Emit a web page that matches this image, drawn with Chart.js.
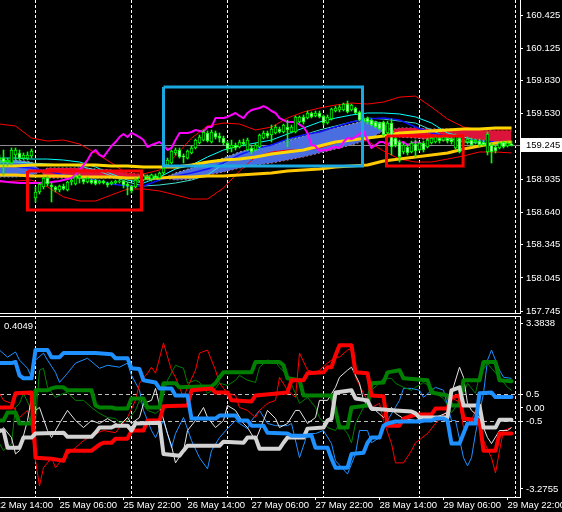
<!DOCTYPE html>
<html><head><meta charset="utf-8">
<style>
html,body{margin:0;padding:0;background:#000;}
body{width:562px;height:512px;position:relative;overflow:hidden;}
canvas{position:absolute;left:0;}
#main{top:0;}
#sub{top:314px;}
</style>
<script src="https://cdn.jsdelivr.net/npm/chart.js@4/dist/chart.umd.min.js"></script>
</head><body>
<canvas id="main" width="562" height="314"></canvas>
<canvas id="sub" width="562" height="198"></canvas>
<script>
// ---------- time axis ----------
const timeLabels = ['22 May 14:00','25 May 06:00','25 May 22:00','26 May 14:00','27 May 06:00','27 May 22:00','28 May 14:00','29 May 06:00','29 May 22:00'];
const timeLabelBars = [0,16,32,48,64,80,96,112,128];
const dayStartBars = [10,34,58,82,106,130];

// ---------- price axis ----------
const priceTicks = [160.425,160.125,159.830,159.530,158.935,158.640,158.345,158.045,157.745];
const priceMin = 157.718, priceMax = 160.561;

// ---------- candles (bars 1..129, H1) ----------
const opens = [
159.112,159.130,159.094,159.085,159.158,159.176,159.130,159.130,159.149,
158.769,158.823,158.868,158.949,158.886,158.868,158.841,158.877,158.841,158.913,
158.895,158.949,158.940,158.913,158.931,158.931,158.904,158.922,158.904,158.895,
158.904,158.913,158.922,158.895,158.877,158.868,158.922,158.931,158.959,158.940,
158.968,158.949,158.995,159.067,159.085,159.176,159.203,159.149,159.130,159.176,
159.221,159.266,159.293,159.357,159.275,159.357,159.329,159.311,159.266,159.221,
159.248,159.230,159.275,159.203,159.221,159.203,159.230,159.311,159.357,159.339,
159.357,159.393,159.366,159.411,159.366,159.366,159.456,159.502,159.493,159.538,
159.511,159.538,159.511,159.447,159.484,159.556,159.565,159.565,159.619,159.565,
159.583,159.547,159.484,159.493,159.474,159.456,159.447,159.456,159.357,159.447,
159.311,159.275,159.185,159.230,159.185,159.257,159.203,159.266,159.230,159.266,
159.275,159.311,159.293,159.311,159.302,159.221,159.311,159.266,159.275,159.293,
159.275,159.284,159.275,159.185,159.248,159.230,159.221,159.275,159.239,159.257];
const closes = [
159.130,159.094,159.112,159.203,159.203,159.130,159.158,159.158,159.194,
158.823,158.895,158.949,158.895,158.868,158.841,158.877,158.850,158.913,158.931,
158.959,158.968,158.913,158.949,158.904,158.895,158.922,158.904,158.886,158.913,
158.922,158.922,158.886,158.877,158.832,158.931,158.949,158.968,158.949,158.977,
158.949,158.995,159.040,159.112,159.194,159.203,159.140,159.140,159.194,159.221,
159.293,159.320,159.366,159.284,159.366,159.320,159.311,159.266,159.212,159.248,
159.221,159.275,159.257,159.293,159.185,159.248,159.339,159.357,159.329,159.393,
159.411,159.366,159.429,159.384,159.411,159.502,159.502,159.456,159.538,159.502,
159.538,159.502,159.447,159.502,159.574,159.583,159.592,159.619,159.547,159.610,
159.538,159.474,159.465,159.456,159.429,159.411,159.393,159.339,159.447,159.230,
159.248,159.140,159.248,159.176,159.266,159.194,159.266,159.203,159.293,159.311,
159.320,159.284,159.320,159.284,159.275,159.329,159.185,159.293,159.302,159.248,
159.293,159.248,159.248,159.348,159.185,159.194,159.266,159.230,159.266,159.245];
const highs = [
159.158,159.203,159.130,159.221,159.221,159.203,159.176,159.185,159.212,
158.868,158.904,158.959,158.968,158.904,158.877,158.886,158.895,158.922,158.940,
158.977,158.986,158.949,158.959,158.940,158.940,158.931,158.931,158.913,158.922,
158.931,158.940,158.931,158.913,158.886,158.949,158.968,158.986,158.977,158.986,
158.986,159.004,159.067,159.130,159.203,159.221,159.221,159.167,159.203,159.239,
159.302,159.339,159.384,159.375,159.384,159.375,159.357,159.329,159.284,159.293,
159.266,159.293,159.302,159.311,159.239,159.266,159.348,159.375,159.375,159.429,
159.429,159.411,159.438,159.474,159.429,159.511,159.511,159.520,159.556,159.547,
159.556,159.556,159.520,159.520,159.583,159.601,159.610,159.628,159.646,159.619,
159.592,159.556,159.502,159.502,159.484,159.465,159.456,159.465,159.465,159.484,
159.329,159.293,159.266,159.248,159.284,159.293,159.275,159.284,159.311,159.329,
159.339,159.329,159.339,159.320,159.320,159.348,159.329,159.302,159.320,159.311,
159.302,159.302,159.293,159.366,159.266,159.248,159.275,159.284,159.284,159.284];
const lows = [
159.067,158.977,159.058,159.067,159.112,159.112,159.112,159.112,159.130,
158.732,158.805,158.850,158.877,158.732,158.823,158.823,158.841,158.832,158.886,
158.886,158.904,158.895,158.904,158.895,158.886,158.895,158.895,158.868,158.886,
158.895,158.904,158.859,158.796,158.814,158.859,158.913,158.922,158.931,158.922,
158.940,158.931,158.977,159.058,159.076,159.158,159.130,159.085,159.121,159.167,
159.212,159.257,159.284,159.275,159.266,159.302,159.275,159.248,159.185,159.185,
159.203,159.221,159.239,159.194,159.167,159.194,159.221,159.302,159.311,159.275,
159.348,159.357,159.357,159.230,159.357,159.357,159.447,159.438,159.484,159.493,
159.502,159.493,159.429,159.438,159.474,159.547,159.547,159.556,159.538,159.556,
159.529,159.465,159.447,159.438,159.420,159.402,159.384,159.329,159.348,159.158,
159.230,159.094,159.167,159.158,159.176,159.140,159.194,159.185,159.221,159.257,
159.266,159.266,159.284,159.266,159.257,159.212,159.176,159.248,159.257,159.239,
159.257,159.230,159.239,159.158,159.085,159.176,159.212,159.221,159.230,159.239];

// ---------- main-window indicator lines (sampled every 4 bars) ----------
const lineBars = [1,5,9,13,17,21,25,29,33,37,41,45,49,53,57,61,65,69,73,77,81,85,89,93,97,101,105,109,113,117,121,125,129];
const upperBand = [159.438,159.420,159.311,159.284,159.293,159.257,159.176,159.085,158.986,158.986,159.022,159.149,159.311,159.420,159.447,159.438,159.384,159.411,159.492,159.547,159.583,159.610,159.628,159.619,159.637,159.682,159.691,159.592,159.483,159.411,159.384,159.384,159.384];
const lowerBand = [158.913,158.922,158.931,158.868,158.778,158.741,158.741,158.796,158.850,158.850,158.832,158.796,158.759,158.759,158.859,159.013,159.140,159.185,159.203,159.203,159.221,159.266,159.311,159.284,159.194,159.121,159.094,159.094,159.121,159.149,159.185,159.185,159.176];
const cyanUpper = [159.130,159.130,159.121,159.121,159.112,159.094,159.049,158.986,158.931,158.904,158.959,159.031,159.067,159.140,159.203,159.239,159.266,159.293,159.348,159.402,159.456,159.492,159.520,159.538,159.538,159.529,159.502,159.447,159.357,159.320,159.284,159.275,159.266];
const cyanLower = [159.094,159.094,159.085,159.076,159.067,159.058,159.022,158.968,158.913,158.877,158.886,158.904,158.931,158.977,159.076,159.158,159.203,159.248,159.293,159.339,159.384,159.420,159.456,159.492,159.483,159.465,159.447,159.384,159.311,159.275,159.266,159.257,159.248];
const blueLine = [159.049,159.049,159.040,159.013,158.977,158.959,158.931,158.895,158.877,158.877,158.931,158.968,158.995,159.031,159.085,159.158,159.212,159.248,159.302,159.339,159.366,159.411,159.456,159.483,159.492,159.474,159.411,159.357,159.329,159.302,159.284,159.275,159.275];
const goldUpper = [159.058,159.058,159.067,159.067,159.067,159.067,159.067,159.058,159.058,159.049,159.049,159.049,159.067,159.094,159.112,159.121,159.140,159.167,159.185,159.203,159.239,159.275,159.293,159.311,159.329,159.357,159.366,159.375,159.384,159.393,159.393,159.402,159.402];
const goldLower = [158.977,158.977,158.968,158.968,158.968,158.959,158.959,158.959,158.949,158.949,158.949,158.959,158.959,158.968,158.968,158.977,158.986,158.995,159.013,159.022,159.031,159.049,159.058,159.067,159.103,159.121,159.140,159.158,159.176,159.212,159.239,159.266,159.275];
const spanA = [159.112,159.112,159.094,158.949,158.949,158.949,158.949,158.949,158.949,158.940,158.931,158.995,159.040,159.085,159.130,159.185,159.221,159.248,159.284,159.329,159.366,159.402,159.438,159.474,159.447,159.320,159.311,159.293,159.284,159.275,159.275,159.275,159.275];
const spanB = [158.959,158.959,158.968,159.040,159.040,159.040,159.031,159.022,158.995,158.977,158.959,158.931,158.940,158.977,159.004,159.040,159.067,159.085,159.112,159.140,159.176,159.212,159.248,159.293,159.375,159.402,159.402,159.393,159.393,159.384,159.384,159.375,159.375];
const magenta = [[1,158.922],[3,158.913],[6,158.904],[9,158.904],[11,158.904],[14,158.913],[16,158.922],[19,158.949],[20,158.977],[22,159.067],[23,159.112],[24,159.176],[25,159.203],[26,159.158],[27,159.140],[29,159.239],[30,159.275],[31,159.320],[32,159.348],[33,159.320],[34,159.357],[35,159.339],[36,159.320],[37,159.293],[38,159.230],[39,159.248],[41,159.275],[42,159.248],[43,159.203],[44,159.221],[45,159.293],[46,159.357],[48,159.357],[49,159.366],[50,159.384],[51,159.375],[52,159.366],[53,159.411],[54,159.411],[55,159.492],[57,159.492],[58,159.502],[60,159.538],[61,159.511],[62,159.492],[63,159.538],[64,159.565],[66,159.583],[67,159.601],[68,159.583],[69,159.556],[70,159.538],[71,159.492],[73,159.456],[75,159.456],[77,159.411],[78,159.357],[79,159.248],[80,159.239],[81,159.194],[82,159.203],[83,159.203],[84,159.221],[85,159.230],[86,159.221],[87,159.275],[88,159.311],[89,159.302],[90,159.320],[92,159.375],[93,159.293],[94,159.221],[95,159.248],[96,159.275],[97,159.275],[98,159.248],[99,159.284],[100,159.293],[101,159.266],[102,159.275],[103,159.248],[105,159.275],[107,159.257]];

// ---------- rectangles: [fromBar, toBar, topPrice, bottomPrice] ----------
const redBox1 = [8.0, 36.5, 159.013, 158.660];
const cyanBox = [42.0, 91.75, 159.773, 159.058];
const redBox2 = [97.75, 116.9, 159.329, 159.058];

// ---------- sub-window (bar, value) ----------
const subMin = -3.2755, subMax = 3.3838;
const subTickValues = [3.108, 0.5, 0, -0.5, -2.98];
const subTickLabels = ['3.3838', '0.5', '0.00', '-0.5', '-3.2755'];
const subValueText = '0.4049';
const thickBlue = [[1,1.65],[4,1.65],[5,1.69],[6,1.20],[7,1.09],[9,1.09],[10,2.13],[13,2.13],[14,1.87],[16,1.87],[17,2.02],[25,2.02],[29,1.98],[30,1.83],[33,1.83],[34,1.46],[36,1.43],[37,1.02],[40,0.94],[41,0.72],[44,0.72],[45,0.46],[48,0.46],[49,-0.39],[55,-0.39],[56,-0.28],[60,-0.28],[61,-0.46],[63,-0.46],[64,-0.65],[67,-0.65],[68,-0.91],[73,-0.94],[74,-1.02],[79,-1.02],[80,-1.46],[83,-1.46],[84,-1.87],[85,-2.20],[88,-2.20],[89,-1.69],[92,-1.65],[93,-1.28],[94,-1.09],[96,-1.09],[97,-0.65],[98,-0.57],[100,-0.50],[106,-0.50],[107,-0.46],[109,-0.46],[110,-0.39],[112,-0.39],[113,-0.46],[114,-1.31],[116,-1.31],[117,-0.94],[118,-0.57],[120,-0.57],[121,0.54],[124,0.57],[125,0.40],[129,0.40]];
const thickGreen = [[1,-0.46],[2,-0.46],[3,-0.17],[5,-0.17],[6,-0.57],[9,-0.57],[10,0.65],[13,0.65],[14,0.72],[15,0.76],[17,0.76],[18,0.65],[24,0.65],[25,0.09],[26,0.02],[29,0.02],[30,-0.02],[33,-0.02],[34,0.35],[37,0.35],[38,0.02],[41,0.02],[42,0.91],[45,0.91],[46,0.76],[54,0.80],[55,0.91],[56,1.13],[57,1.31],[64,1.31],[65,1.69],[71,1.69],[72,1.57],[73,1.09],[76,1.02],[77,0.46],[84,0.46],[85,-0.09],[86,-0.72],[88,-0.72],[89,0.02],[93,0.09],[94,0.91],[97,0.94],[98,1.31],[101,1.39],[102,1.09],[108,1.02],[109,0.57],[113,0.46],[114,0.09],[116,0.09],[117,1.02],[121,1.02],[122,1.69],[125,1.69],[126,1.02],[129,0.98]];
const thickRed = [[1,0.02],[4,0.02],[5,0.54],[9,0.57],[10,-1.83],[14,-1.87],[17,-1.94],[18,-1.57],[24,-1.57],[26,-1.35],[27,-1.28],[29,-1.28],[30,-1.13],[33,-1.13],[34,-0.83],[37,-0.83],[38,-0.46],[41,-0.46],[42,0.06],[48,0.09],[49,0.65],[54,0.72],[55,0.57],[58,0.57],[59,0.28],[64,0.24],[65,0.46],[73,0.57],[74,1.02],[77,1.02],[78,1.28],[82,1.31],[83,1.50],[84,1.50],[85,1.94],[86,2.31],[89,2.31],[90,1.31],[93,1.28],[94,0.46],[97,0.43],[98,-0.65],[101,-0.65],[102,-0.39],[105,-0.24],[109,-0.24],[110,-0.02],[113,-0.02],[114,0.39],[116,0.46],[117,-0.39],[121,-0.46],[122,-1.57],[125,-1.57],[126,-0.94],[129,-0.94]];
const thickWhite = [[1,-0.83],[2,-0.83],[3,-1.46],[6,-1.46],[7,-1.09],[9,-1.09],[10,-0.94],[17,-0.91],[18,-1.06],[24,-1.06],[25,-0.91],[26,-0.72],[29,-0.72],[30,-0.65],[33,-0.65],[34,-0.83],[35,-0.57],[41,-0.54],[42,-1.69],[46,-1.76],[47,-1.57],[48,-1.39],[56,-1.39],[57,-1.24],[62,-1.28],[63,-1.09],[65,-1.09],[66,-1.50],[71,-1.50],[72,-1.28],[73,-1.09],[77,-1.09],[78,-0.76],[82,-0.72],[83,-0.46],[84,-0.39],[85,0.57],[89,0.65],[90,0.35],[93,0.28],[94,-0.02],[100,-0.09],[104,-0.13],[105,-0.20],[106,-0.35],[113,-0.35],[114,0.65],[116,0.76],[117,0.09],[121,0.09],[122,-0.72],[125,-0.72],[126,-0.43],[129,-0.43]];
const thinBlue = [[1,2.13],[3,1.87],[5,2.06],[6,1.76],[8,1.46],[9,1.13],[10,1.76],[12,2.02],[13,1.76],[15,1.31],[16,0.94],[18,1.28],[20,1.65],[23,1.83],[26,1.46],[28,1.57],[31,1.50],[33,1.65],[34,1.20],[36,0.65],[37,-0.09],[39,-0.83],[40,-1.09],[42,-0.46],[44,-1.46],[45,-0.94],[47,-0.35],[49,-1.20],[51,-1.83],[53,-2.24],[54,-1.57],[56,-1.09],[58,-0.76],[60,-0.46],[61,-0.57],[63,-0.76],[64,-0.46],[66,-0.09],[68,-0.57],[70,-0.65],[73,-0.65],[74,-0.57],[76,-1.83],[78,-0.94],[80,-0.94],[82,-0.83],[84,-1.31],[85,-1.94],[88,-2.43],[90,-1.69],[91,-0.83],[93,-0.83],[94,-1.28],[96,-1.09],[98,-0.46],[101,0.28],[102,0.72],[104,0.72],[106,0.65],[107,0.39],[109,0.65],[110,0.76],[112,0.65],[114,-0.46],[115,-0.46],[117,-1.83],[118,-2.13],[119,-1.83],[120,-0.94],[122,0.54],[123,1.76],[124,2.13],[126,1.39],[127,1.13],[129,1.09]];
const thinGreen = [[1,-1.31],[2,-1.57],[4,-1.31],[5,0.02],[6,0.17],[7,0.54],[9,-0.09],[10,-0.46],[11,1.39],[12,1.46],[13,0.76],[15,0.39],[17,0.54],[18,0.57],[20,0.28],[22,0.28],[24,0.02],[26,-0.20],[28,-0.35],[30,-0.39],[31,-0.54],[33,-0.46],[35,-0.09],[36,0.28],[38,-0.09],[40,-0.20],[41,-0.09],[43,1.02],[45,1.57],[47,1.46],[48,0.91],[50,1.02],[51,0.94],[53,0.54],[55,0.72],[56,0.91],[58,0.83],[60,1.02],[61,1.20],[63,1.02],[65,0.94],[66,1.50],[68,1.76],[70,1.69],[71,1.50],[73,1.20],[75,0.54],[76,0.17],[78,0.39],[80,0.02],[81,-0.35],[83,-0.72],[85,-0.83],[86,-0.57],[88,-0.94],[89,-1.28],[90,-0.57],[92,0.02],[94,0.65],[96,0.91],[97,1.09],[99,1.09],[100,0.91],[102,0.76],[104,0.65],[105,0.76],[107,0.94],[109,0.76],[110,0.54],[112,0.35],[114,-0.17],[115,0.02],[117,0.54],[118,0.91],[120,0.54],[121,1.20],[123,1.65],[124,1.46],[126,1.13],[128,0.76],[129,0.65]];
const thinRed = [[1,0.54],[2,0.28],[4,0.17],[5,-0.09],[6,-0.35],[8,-0.09],[9,-0.72],[10,-1.94],[11,-2.87],[12,-2.20],[14,-1.83],[15,-2.20],[17,-1.83],[20,-1.46],[22,-1.20],[25,-0.94],[27,-0.83],[30,-0.91],[33,-0.35],[35,0.28],[36,0.91],[38,1.28],[39,1.50],[40,1.28],[42,2.39],[44,1.39],[45,1.13],[47,0.39],[48,0.76],[50,1.39],[51,2.02],[53,2.13],[55,1.39],[56,0.91],[58,0.54],[60,0.46],[61,0.02],[63,-0.09],[65,-0.35],[66,-0.09],[68,0.17],[70,0.28],[71,1.13],[73,0.65],[75,0.39],[76,2.02],[78,1.39],[80,1.31],[81,1.39],[83,1.65],[85,1.87],[86,1.87],[88,2.13],[89,2.20],[90,1.13],[92,0.54],[94,0.02],[96,0.17],[97,-0.46],[99,-1.31],[100,-2.02],[102,-2.02],[104,-1.57],[105,-1.28],[108,-0.94],[110,-0.57],[113,-0.09],[114,0.39],[116,0.20],[117,-0.72],[119,-0.46],[120,-0.09],[122,-1.20],[124,-1.83],[125,-2.39],[126,-1.57],[127,-0.83],[129,-0.72]];
const thinWhite = [[1,-0.94],[2,-0.72],[4,-1.09],[5,-1.69],[6,-1.57],[8,-0.46],[9,0.39],[10,-0.09],[11,0.02],[13,-0.83],[14,-1.09],[16,-0.57],[18,-0.09],[20,-0.46],[22,-0.72],[24,-0.46],[26,-0.57],[28,-0.39],[31,-0.65],[33,-0.35],[34,-0.57],[36,-0.35],[37,0.17],[39,0.28],[40,0.72],[41,0.09],[43,-0.94],[44,-1.39],[45,-2.02],[47,-1.57],[48,-0.83],[50,-0.46],[52,0.02],[53,-0.35],[55,-0.72],[57,-0.46],[58,0.09],[60,-0.09],[62,-0.57],[63,-0.72],[65,-1.20],[67,-0.46],[68,-0.09],[70,-0.39],[71,-0.72],[73,-0.57],[75,-0.09],[76,-0.09],[78,-0.57],[80,-0.35],[81,0.28],[83,0.28],[85,0.76],[86,1.13],[88,1.39],[89,1.50],[91,0.91],[92,0.28],[94,-0.09],[95,-0.09],[97,-0.35],[99,0.02],[100,-0.20],[102,-0.39],[105,-0.46],[108,-0.35],[110,-0.35],[113,-0.17],[114,0.54],[116,1.50],[117,1.13],[118,0.17],[119,-0.09],[121,-0.35],[123,-1.09],[124,-1.31],[126,-0.83],[128,-0.83],[129,-0.72]];

// ---------- helpers ----------
const xMin = 1.125, xMax = 131.125;
const FONT = {family: '"Liberation Sans", Arial, sans-serif', size: 9.5};
const FONT_CSS = '9.5px "Liberation Sans", Arial, sans-serif';
const pts = (bars, vals) => vals.map((v, k) => ({x: bars[k], y: v}));
const pairPts = pairs => pairs.map(p => ({x: p[0], y: p[1]}));
const boxPts = b => [{x:b[0],y:b[2]},{x:b[1],y:b[2]},{x:b[1],y:b[3]},{x:b[0],y:b[3]},{x:b[0],y:b[2]}];
const line = (data, color, width, order, extra) => Object.assign({
  type: 'line', data, borderColor: color, borderWidth: width, pointRadius: 0,
  fill: false, tension: 0, order, borderJoinStyle: 'round'
}, extra || {});
const zeroPad = s => { s.paddingLeft = 0; s.paddingRight = 0; s.paddingTop = 0; s.paddingBottom = 0; };
const gridAxis = (dash) => ({
  type: 'linear', min: xMin, max: xMax, position: 'bottom', offset: false, bounds: 'data',
  grid: {display: true, color: '#ffffff', lineWidth: 1, drawTicks: false, drawOnChartArea: true, borderDash: dash},
  border: {display: false, dash: dash},
  ticks: {display: false},
  afterBuildTicks: s => { s.ticks = dayStartBars.map(v => ({value: v})); },
  afterFit: s => { s.height = 0; zeroPad(s); }
});

// ---------- main chart ----------
const candleBars = opens.map((o, k) => k + 1);
const mainDeco = {
  id: 'mainDeco',
  beforeDatasetsDraw(chart) {
    const {ctx, chartArea: a, scales: {y}} = chart;
    const py = Math.round(y.getPixelForValue(closes[closes.length - 1])) + 0.5;
    ctx.save(); ctx.strokeStyle = '#8c8c8c'; ctx.lineWidth = 1;
    ctx.beginPath(); ctx.moveTo(a.left, py); ctx.lineTo(a.right, py); ctx.stroke(); ctx.restore();
  },
  afterDraw(chart) {
    const {ctx, chartArea: a, scales: {y}} = chart;
    ctx.save();
    ctx.strokeStyle = '#ffffff'; ctx.lineWidth = 1;
    ctx.beginPath(); ctx.moveTo(a.left, a.bottom - 0.5); ctx.lineTo(a.right, a.bottom - 0.5); ctx.stroke();
    const last = closes[closes.length - 1];
    const py = Math.round(y.getPixelForValue(last));
    ctx.fillStyle = '#ffffff';
    ctx.fillRect(a.right + 1, py - 7, chart.width - a.right - 1, 14);
    ctx.fillStyle = '#000000'; ctx.font = FONT_CSS; ctx.textBaseline = 'middle';
    ctx.fillText(last.toFixed(3), a.right + 6, py + 0.5);
    ctx.restore();
  }
};

new Chart(document.getElementById('main'), {
  type: 'line',
  data: {datasets: [
    line(pts(lineBars, spanA), '#a8a8a8', 1, 91, {borderDash: [2, 2], fill: {target: '+1', above: '#4a6ee0', below: '#dc143c'}}),
    line(pts(lineBars, spanB), '#a8a8a8', 1, 92, {borderDash: [2, 2]}),
    line(pts(lineBars, upperBand), '#ff0000', 1, 60),
    line(pts(lineBars, lowerBand), '#ff0000', 1, 60),
    line(pts(lineBars, cyanUpper), '#00ffff', 1, 56),
    line(pts(lineBars, cyanLower), '#40e0d0', 1, 56),
    line(pts(lineBars, blueLine), '#1010ff', 1.5, 55),
    line(pts(lineBars, goldLower), '#ffc800', 3, 50),
    line(pts(lineBars, goldUpper), '#ffd700', 3, 50),
    line(pairPts(magenta), '#ff00ff', 2, 45),
    {type: 'bar', data: candleBars.map((b, k) => ({x: b, y: [lows[k], highs[k]]})),
     backgroundColor: '#00ff00', borderWidth: 0, barThickness: 1, maxBarThickness: 1, grouped: false, order: 30},
    {type: 'bar', data: candleBars.map((b, k) => ({x: b, y: [opens[k], closes[k]]})),
     backgroundColor: candleBars.map((b, k) => closes[k] >= opens[k] ? '#000000' : '#ffffff'),
     borderColor: '#00ff00', borderWidth: 1, borderSkipped: false,
     barThickness: 3, maxBarThickness: 3, grouped: false, order: 20},
    line(boxPts(redBox1), '#ff0000', 3, 10, {borderJoinStyle: 'miter'}),
    line(boxPts(cyanBox), '#1aa8e2', 3, 10, {borderJoinStyle: 'miter'}),
    line(boxPts(redBox2), '#ff0000', 3, 10, {borderJoinStyle: 'miter'})
  ]},
  options: {
    responsive: false, maintainAspectRatio: false, devicePixelRatio: 1, animation: false, events: [],
    layout: {padding: 0, autoPadding: false},
    plugins: {legend: {display: false}, tooltip: {enabled: false}},
    scales: {
      x: {type: 'linear', display: false, min: xMin, max: xMax, offset: false, bounds: 'data'},
      xg: gridAxis([3, 2]),
      y: {
        type: 'linear', position: 'right', min: priceMin, max: priceMax, bounds: 'data',
        grid: {display: true, drawOnChartArea: false, drawTicks: true, tickLength: 3, tickColor: '#ffffff', color: '#ffffff'},
        border: {display: true, color: '#ffffff', width: 1},
        ticks: {color: '#ffffff', font: FONT, padding: 3, autoSkip: false, callback: v => Number(v).toFixed(3)},
        afterBuildTicks: s => { s.ticks = priceTicks.map(v => ({value: v})); },
        afterFit: s => { s.width = 42; zeroPad(s); }
      }
    }
  },
  plugins: [mainDeco]
});

// ---------- sub chart ----------
const subDeco = {
  id: 'subDeco',
  afterDraw(chart) {
    const {ctx, chartArea: a} = chart;
    ctx.save();
    ctx.strokeStyle = '#ffffff'; ctx.lineWidth = 1;
    ctx.beginPath(); ctx.moveTo(a.left, a.top + 0.5); ctx.lineTo(a.right, a.top + 0.5); ctx.stroke();
    ctx.fillStyle = '#ffffff'; ctx.font = FONT_CSS; ctx.textBaseline = 'middle';
    ctx.fillText(subValueText, a.left + 4, a.top + 10);
    ctx.restore();
  }
};

new Chart(document.getElementById('sub'), {
  type: 'line',
  data: {datasets: [
    line(pairPts(thinBlue), '#1e90ff', 1, 24),
    line(pairPts(thinGreen), '#008000', 1, 23),
    line(pairPts(thinRed), '#ff0000', 1, 22),
    line(pairPts(thinWhite), '#e6e6e6', 1, 21),
    line(pairPts(thickGreen), '#008000', 4, 14, {borderCapStyle: 'round'}),
    line(pairPts(thickRed), '#ff0000', 4, 13, {borderCapStyle: 'round'}),
    line(pairPts(thickWhite), '#d3d3d3', 4, 12, {borderCapStyle: 'round'}),
    line(pairPts(thickBlue), '#1e90ff', 4, 11, {borderCapStyle: 'round'})
  ]},
  options: {
    responsive: false, maintainAspectRatio: false, devicePixelRatio: 1, animation: false, events: [],
    layout: {padding: {top: 2, left: 0, right: 0, bottom: 0}, autoPadding: false},
    plugins: {legend: {display: false}, tooltip: {enabled: false}},
    scales: {
      x: {
        type: 'linear', min: xMin, max: xMax, position: 'bottom', offset: false, bounds: 'data',
        grid: {display: true, drawOnChartArea: false, drawTicks: true, tickLength: 3, tickColor: '#ffffff', color: '#ffffff'},
        border: {display: true, color: '#ffffff', width: 1},
        ticks: {color: '#ffffff', font: FONT, padding: 0, align: 'start', autoSkip: false, maxRotation: 0, minRotation: 0,
                callback: v => timeLabels[timeLabelBars.indexOf(v)]},
        afterBuildTicks: s => { s.ticks = timeLabelBars.map(v => ({value: v})); },
        afterFit: s => { s.height = 15; zeroPad(s); }
      },
      xg: gridAxis([3, 2]),
      y: {
        type: 'linear', position: 'right', min: subMin, max: subMax, bounds: 'data',
        grid: {display: true, drawOnChartArea: true, drawTicks: true, tickLength: 3, tickColor: '#ffffff',
               color: c => (c.tick && Math.abs(Math.abs(c.tick.value) - 0.5) < 1e-9) ? '#c0c0c0' : 'rgba(0,0,0,0)',
               borderDash: [4, 3]},
        border: {display: true, color: '#ffffff', width: 1, dash: [4, 3]},
        ticks: {color: '#ffffff', font: FONT, padding: 3, autoSkip: false, callback: (v, i) => subTickLabels[i]},
        afterBuildTicks: s => { s.ticks = subTickValues.map(v => ({value: v})); },
        afterFit: s => { s.width = 42; zeroPad(s); }
      }
    }
  },
  plugins: [subDeco]
});
</script>
</body></html>
